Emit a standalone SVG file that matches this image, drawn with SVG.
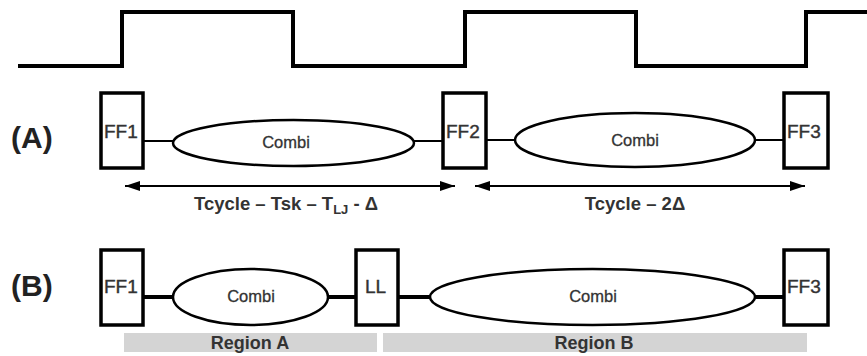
<svg xmlns="http://www.w3.org/2000/svg" width="867" height="356" viewBox="0 0 867 356">
<defs>
<marker id="ah" viewBox="0 0 15 10" refX="15" refY="5" markerWidth="15" markerHeight="10" markerUnits="userSpaceOnUse" orient="auto-start-reverse">
<path d="M0,0 L15,5 L0,10 Z" fill="#000"/>
</marker>
</defs>
<style>
.box{fill:#fff;stroke:#000;stroke-width:3.5}
.ell{fill:#fff;stroke:#000;stroke-width:2.5}
.ff{font-family:"Liberation Sans",Arial,sans-serif;font-size:19px;fill:#333;stroke:#333;stroke-width:0.4}
.cb{font-family:"Liberation Sans",Arial,sans-serif;font-size:16.5px;fill:#333;stroke:#333;stroke-width:0.3;text-anchor:middle}
.lbl{font-family:"Liberation Sans",Arial,sans-serif;font-size:30px;font-weight:bold;fill:#222}
.dim{font-family:"Liberation Sans",Arial,sans-serif;font-size:18.5px;font-weight:bold;fill:#333;text-anchor:middle}
.reg{fill:#d4d4d4}
.rt{font-family:"Liberation Sans",Arial,sans-serif;font-size:18px;font-weight:bold;fill:#333;text-anchor:middle}
.wA{stroke:#000;stroke-width:2;fill:none}
.wB{stroke:#000;stroke-width:4;fill:none}
.arr{stroke:#000;stroke-width:2;fill:none;marker-start:url(#ah);marker-end:url(#ah)}
</style>
<rect width="867" height="356" fill="#fff"/>

<g id="clock">
<polyline points="18,66 122,66 122,12 293,12 293,66 465,66 465,12 636,12 636,66 806,66 806,12 867,12" fill="none" stroke="#000" stroke-width="4"/>
</g>

<g id="labelA"><text class="lbl" x="11" y="148">(A)</text></g>
<g id="labelB"><text class="lbl" x="11" y="296">(B)</text></g>

<g id="connectors">
<line class="wA" x1="143" y1="141" x2="173" y2="141"/>
<line class="wA" x1="414" y1="141" x2="443" y2="141"/>
<line class="wA" x1="486" y1="140" x2="515" y2="140"/>
<line class="wA" x1="755" y1="140" x2="784" y2="140"/>
<line class="wB" x1="143" y1="297" x2="173" y2="297"/>
<line class="wB" x1="328" y1="297" x2="356" y2="297"/>
<line class="wB" x1="398" y1="297" x2="430" y2="297"/>
<line class="wB" x1="755" y1="297" x2="784" y2="297"/>
<line class="arr" x1="125" y1="186" x2="455" y2="186"/>
<line class="arr" x1="475" y1="186" x2="805" y2="186"/>
</g>

<g id="A_FF1"><rect class="box" x="101" y="93" width="42" height="75"/><text class="ff" x="104" y="138">FF1</text></g>
<g id="A_Combi1"><ellipse class="ell" cx="293.5" cy="143" rx="120.5" ry="23"/><text class="cb" x="286" y="148">Combi</text></g>
<g id="A_FF2"><rect class="box" x="443" y="93" width="43" height="75"/><text class="ff" x="446" y="138">FF2</text></g>
<g id="A_Combi2"><ellipse class="ell" cx="635" cy="140" rx="120" ry="27"/><text class="cb" x="635" y="146">Combi</text></g>
<g id="A_FF3"><rect class="box" x="784" y="93" width="44" height="75"/><text class="ff" x="787" y="138">FF3</text></g>

<g id="dimA1"><text class="dim" x="286" y="210">Tcycle – Tsk – T<tspan font-size="13" dy="4">LJ</tspan><tspan dy="-4"> - Δ</tspan></text></g>
<g id="dimA2"><text class="dim" x="635" y="210">Tcycle – 2Δ</text></g>

<g id="B_FF1"><rect class="box" x="101" y="250" width="42" height="75"/><text class="ff" x="104" y="293">FF1</text></g>
<g id="B_Combi1"><ellipse class="ell" cx="250.5" cy="297" rx="77.5" ry="28"/><text class="cb" x="251" y="302">Combi</text></g>
<g id="B_LL"><rect class="box" x="356" y="250" width="42" height="75"/><text class="ff" x="365" y="293">LL</text></g>
<g id="B_Combi2"><ellipse class="ell" cx="592.5" cy="297" rx="162.5" ry="28"/><text class="cb" x="593" y="302">Combi</text></g>
<g id="B_FF3"><rect class="box" x="784" y="250" width="44" height="75"/><text class="ff" x="787" y="293">FF3</text></g>

<g id="regionA"><rect class="reg" x="124" y="333" width="253" height="19"/><text class="rt" x="250" y="349">Region A</text></g>
<g id="regionB"><rect class="reg" x="383" y="333" width="424" height="19"/><text class="rt" x="594" y="349">Region B</text></g>
</svg>
